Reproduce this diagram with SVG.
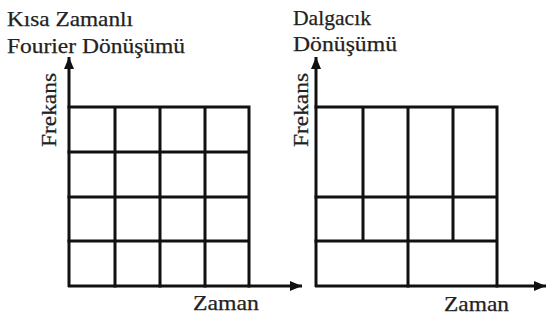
<svg xmlns="http://www.w3.org/2000/svg" width="548" height="321" viewBox="0 0 548 321">
<defs>
<marker id="arr" viewBox="0 0 12 10" refX="12" refY="5" markerWidth="12" markerHeight="10" markerUnits="userSpaceOnUse" orient="auto">
<path d="M0,0 L12,5 L0,10 Z" fill="#111"/>
</marker>
<style>
.t{font-family:"Liberation Serif","Times New Roman",serif;font-size:22px;fill:#222;stroke:#222;stroke-width:0.25}
.g{stroke:#111;stroke-width:3;fill:none;stroke-linecap:square}
.ax{stroke:#111;stroke-width:3;fill:none}
</style>
</defs>
<rect width="548" height="321" fill="#fff"/>
<g id="stft-title">
<text class="t" x="7" y="26" textLength="126" lengthAdjust="spacingAndGlyphs">Kısa Zamanlı</text>
<text class="t" x="7" y="53" textLength="178" lengthAdjust="spacingAndGlyphs">Fourier Dönüşümü</text>
</g>
<g id="wavelet-title">
<text class="t" x="293" y="25" textLength="78" lengthAdjust="spacingAndGlyphs">Dalgacık</text>
<text class="t" x="293" y="51" textLength="104" lengthAdjust="spacingAndGlyphs">Dönüşümü</text>
</g>
<g id="stft-grid">
<path class="g" d="M69,107H249M69,152H249M69,197H249M69,241H249M115,107V286M160,107V286M205,107V286M249,107V286"/>
</g>
<g id="wavelet-grid">
<path class="g" d="M316,107H497M316,197H497M316,241H497M363,107V241M408,107V286M453,107V241M497,107V286"/>
</g>
<g id="connectors">
<line class="ax" x1="69" y1="287" x2="69" y2="57" marker-end="url(#arr)"/>
<line class="ax" x1="68" y1="286" x2="302" y2="286" marker-end="url(#arr)"/>
<line class="ax" x1="316" y1="287" x2="316" y2="57" marker-end="url(#arr)"/>
<line class="ax" x1="315" y1="286" x2="546" y2="286" marker-end="url(#arr)"/>
</g>
<g id="axis-labels">
<text class="t" transform="translate(56,147) rotate(-90)" textLength="74" lengthAdjust="spacingAndGlyphs">Frekans</text>
<text class="t" x="193" y="310" textLength="66" lengthAdjust="spacingAndGlyphs">Zaman</text>
<text class="t" transform="translate(308,147) rotate(-90)" textLength="74" lengthAdjust="spacingAndGlyphs">Frekans</text>
<text class="t" x="444" y="311" textLength="65" lengthAdjust="spacingAndGlyphs">Zaman</text>
</g>
</svg>
